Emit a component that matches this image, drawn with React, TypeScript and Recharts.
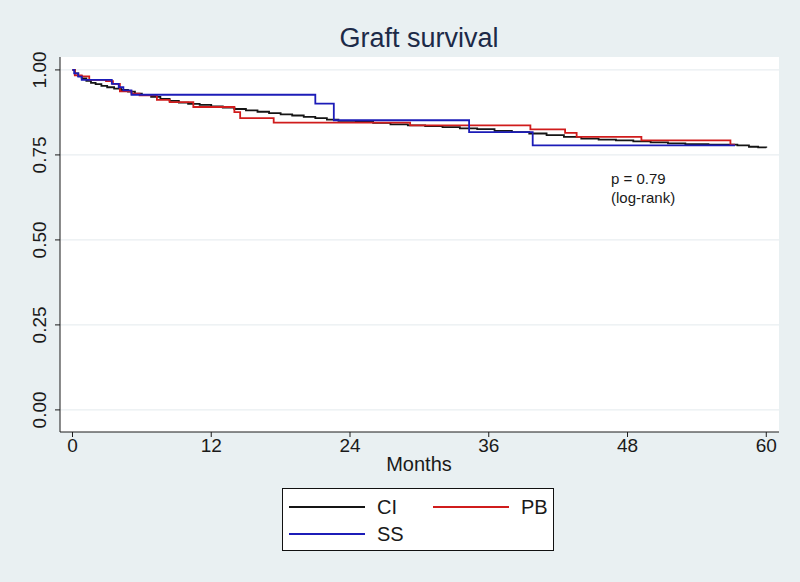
import React from "react"
import { LineChart, Line, XAxis, YAxis, CartesianGrid } from "recharts"

// Kaplan-Meier estimates: [month, survival]
const ciSteps: [number, number][] = [
    [0, 1], [0.2, 0.99], [0.5, 0.982], [0.8, 0.975], [1.2, 0.968], [1.6, 0.962], [2.0, 0.958],
    [2.5, 0.953], [3.0, 0.949], [3.6, 0.945], [4.2, 0.941], [4.8, 0.936], [5.4, 0.93], [6.0, 0.926],
    [6.8, 0.921], [7.6, 0.915], [8.4, 0.909], [9.2, 0.904], [10.0, 0.9], [11.0, 0.897], [12.0, 0.893],
    [13.0, 0.889], [14.0, 0.885], [15.0, 0.881], [16.0, 0.877], [17.0, 0.873], [18.0, 0.869],
    [19.0, 0.866], [20.0, 0.862], [21.0, 0.858], [22.0, 0.854], [23.0, 0.85], [24.5, 0.847],
    [26.0, 0.844], [27.5, 0.84], [29.0, 0.837], [30.5, 0.835], [32.0, 0.832], [33.5, 0.828],
    [35.0, 0.826], [36.5, 0.821], [38.0, 0.817], [39.5, 0.813], [41.0, 0.808], [42.5, 0.803],
    [44.0, 0.798], [45.5, 0.795], [47.0, 0.793], [48.5, 0.79], [50.0, 0.787], [51.5, 0.784],
    [53.0, 0.782], [55.0, 0.78], [57.5, 0.778], [58.5, 0.774], [59.3, 0.772], [60.0, 0.771],
]

const pbSteps: [number, number][] = [
    [0, 1], [0.2, 0.984], [0.8, 0.981], [1.45, 0.971], [2.9, 0.967], [3.5, 0.959], [4.1, 0.937],
    [5.1, 0.93], [5.8, 0.925], [7.3, 0.912], [8.4, 0.905], [10.45, 0.891], [14.0, 0.876],
    [14.5, 0.858], [17.4, 0.845], [29.2, 0.837], [39.6, 0.825], [42.6, 0.815], [43.6, 0.803],
    [49.2, 0.793], [56.9, 0.78], [57.3, 0.78],
]

const ssSteps: [number, number][] = [
    [0, 1], [0.15, 0.99], [0.5, 0.98], [0.8, 0.971], [3.4, 0.959], [4.0, 0.949], [4.4, 0.94],
    [5.1, 0.927], [21.0, 0.901], [22.6, 0.852], [34.3, 0.817], [39.8, 0.778], [57.3, 0.778],
]

const monthTicks = [0, 12, 24, 36, 48, 60]
const survivalTicks = [0, 0.25, 0.5, 0.75, 1]

const toRows = (steps: [number, number][]) => steps.map(([t, s]) => ({ t, s }))

const series = [
    { name: "CI", data: toRows(ciSteps), color: "#151515" },
    { name: "PB", data: toRows(pbSteps), color: "#d01c1c" },
    { name: "SS", data: toRows(ssSteps), color: "#1c1cb8" },
]

const font = "'Liberation Sans', Arial, sans-serif"
const ink = "#1a1a1a"

function YTick(props: any) {
    const { y, payload } = props
    return (
        <text
            x={46}
            y={y}
            transform={`rotate(-90 46 ${y})`}
            textAnchor="middle"
            fontSize={19}
            fontFamily={font}
            fill={ink}
        >
            {payload.value.toFixed(2)}
        </text>
    )
}

function LegendRow({ color, label, x, y }: { color: string; label: string; x: number; y: number }) {
    return (
        <>
            <div style={{ position: "absolute", left: x, top: y - 1, width: 76, height: 2, background: color }} />
            <div style={{ position: "absolute", left: x + 88, top: y - 12, fontSize: 20, lineHeight: "24px", color: ink }}>
                {label}
            </div>
        </>
    )
}

export default function App() {
    return (
        <div
            style={{
                position: "absolute",
                left: 0,
                top: 0,
                width: 800,
                height: 582,
                background: "#e9f0f2",
                fontFamily: font,
                overflow: "hidden",
            }}
        >
            <LineChart width={800} height={582} margin={{ top: 57, right: 21, bottom: 120, left: 0 }}>
                <CartesianGrid vertical={false} stroke="#e3eaed" fill="#ffffff" horizontalValues={survivalTicks} />
                <XAxis
                    type="number"
                    dataKey="t"
                    domain={[-1.08, 61.1]}
                    ticks={monthTicks}
                    allowDataOverflow
                    height={30}
                    tickSize={5}
                    tickMargin={2}
                    stroke={ink}
                    tick={{ fontSize: 19, fill: ink, fontFamily: font }}
                />
                <YAxis
                    type="number"
                    domain={[-0.065, 1.038]}
                    ticks={survivalTicks}
                    allowDataOverflow
                    width={60}
                    tickSize={5}
                    stroke={ink}
                    tick={<YTick />}
                />
                {series.map((s) => (
                    <Line
                        key={s.name}
                        data={s.data}
                        dataKey="s"
                        name={s.name}
                        type="stepAfter"
                        stroke={s.color}
                        strokeWidth={1.8}
                        dot={false}
                        isAnimationActive={false}
                    />
                ))}
            </LineChart>

            <div style={{ position: "absolute", left: 0, width: 838, top: 23, textAlign: "center", fontSize: 27, color: "#1c2a48" }}>
                Graft survival
            </div>
            <div style={{ position: "absolute", left: 0, width: 838, top: 453, textAlign: "center", fontSize: 20, color: ink }}>
                Months
            </div>
            <div style={{ position: "absolute", left: 611, top: 169, fontSize: 15, lineHeight: "19px", color: ink }}>
                p = 0.79
                <br />
                (log-rank)
            </div>

            <div
                style={{
                    position: "absolute",
                    left: 282,
                    top: 488,
                    width: 272,
                    height: 63,
                    background: "#ffffff",
                    border: "1px solid #111",
                    boxSizing: "border-box",
                }}
            />
            <LegendRow color={series[0].color} label="CI" x={289} y={507} />
            <LegendRow color={series[1].color} label="PB" x={433} y={507} />
            <LegendRow color={series[2].color} label="SS" x={289} y={534} />
        </div>
    )
}
